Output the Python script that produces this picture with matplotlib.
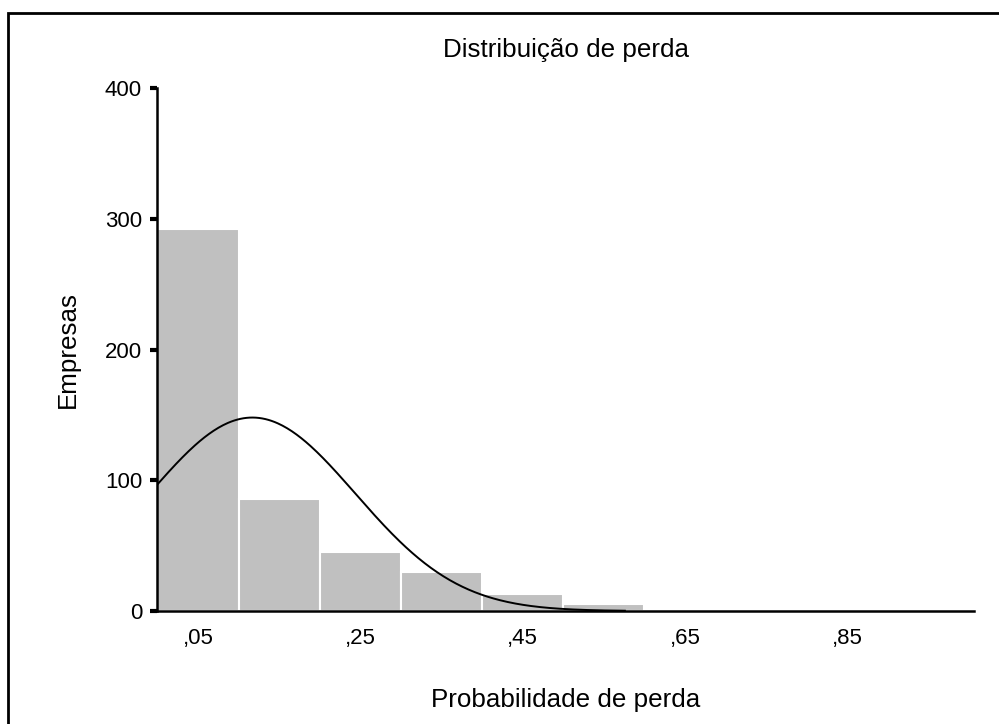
import numpy as np
import matplotlib.pyplot as plt
from matplotlib.patches import Rectangle

plt.rcParams['font.family'] = ['Liberation Sans', 'DejaVu Sans']

# histogram data (bins of width 0.1 starting at 0)
bin_left = [0.0, 0.1, 0.2, 0.3, 0.4, 0.5]
counts = [292, 86, 45, 30, 13, 5]
bin_width = 0.1

# fitted normal curve, parameters
n_total = sum(counts)
mu = 0.117
sigma = 0.127
curve_start, curve_end = 0.0, 0.576

xtick_pos = [0.05, 0.25, 0.45, 0.65, 0.85]
xtick_labels = [",05", ",25", ",45", ",65", ",85"]
ytick_pos = [0, 100, 200, 300, 400]

fig = plt.figure(figsize=(9.99, 7.24), dpi=100)

# outer frame
fig.patches.append(Rectangle((8 / 999, -0.05), 1.1, (724 - 13) / 724 + 0.05,
                             transform=fig.transFigure, fill=False,
                             edgecolor="black", linewidth=2, zorder=0))

ax = fig.add_axes([157.4 / 999, (724 - 611) / 724, (973.7 - 157.4) / 999, (611 - 88) / 724])

ax.bar(bin_left, counts, width=bin_width, align="edge", color="#c0c0c0",
       edgecolor="white", linewidth=1.5, zorder=2)

xs = np.linspace(curve_start, curve_end, 300)
ys = n_total * bin_width * np.exp(-0.5 * ((xs - mu) / sigma) ** 2) / (sigma * np.sqrt(2 * np.pi))
ax.plot(xs, ys, color="black", linewidth=1.4, zorder=3)

ax.set_xlim(0, 1.0058)
ax.set_ylim(0, 400)

for side in ["top", "right"]:
    ax.spines[side].set_visible(False)
ax.spines["left"].set_linewidth(1.8)
ax.spines["bottom"].set_linewidth(1.8)
ax.spines["left"].set_zorder(4)
ax.spines["bottom"].set_zorder(4)

ax.set_xticks(xtick_pos)
ax.set_xticklabels(xtick_labels)
ax.set_yticks(ytick_pos)
ax.tick_params(axis="x", length=0, pad=12, labelsize=16)
ax.tick_params(axis="y", direction="out", length=5, width=3, pad=6, labelsize=16)

ax.set_title("Distribuição de perda", fontsize=18.7, y=(611 - 50) / 523, pad=0, va="center")

ax.set_ylabel("Empresas", fontsize=18.7)
ax.yaxis.set_label_coords((68 - 157.4) / 816.3, 0.5)
ax.yaxis.label.set_va("center")

ax.set_xlabel("Probabilidade de perda", fontsize=18.7)
ax.xaxis.set_label_coords(0.5, (611 - 700) / 523)
ax.xaxis.label.set_va("center")

fig.savefig("out.png", dpi=100)
